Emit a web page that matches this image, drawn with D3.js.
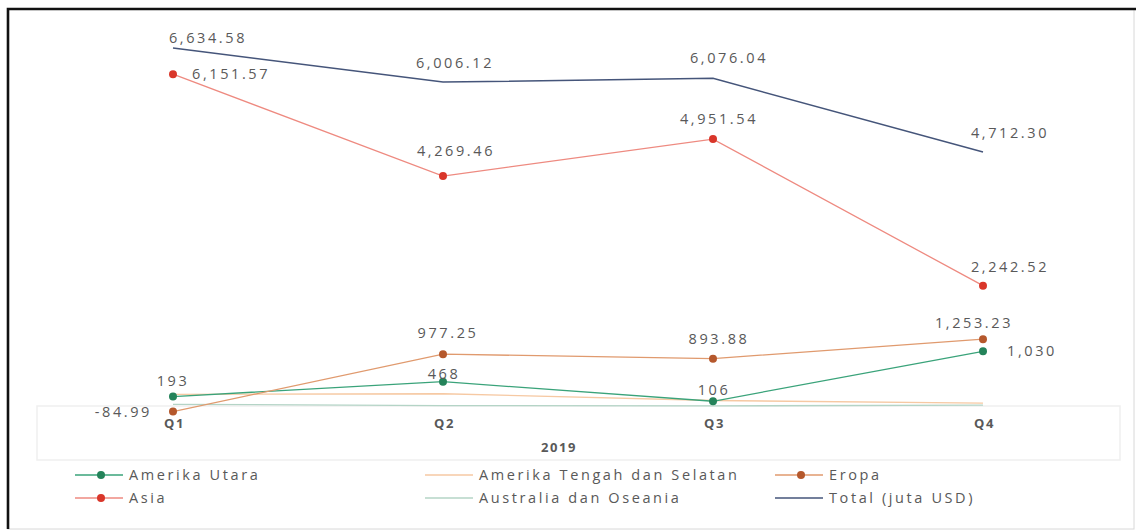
<!DOCTYPE html>
<html>
<head>
<meta charset="utf-8">
<script src="https://cdn.jsdelivr.net/npm/d3@7"></script>
<style>
  html, body { margin: 0; padding: 0; background: #fff; }
  svg { display: block; }
  text { font-family: "Open Sans", "DejaVu Sans", sans-serif; fill: #595959; }
</style>
</head>
<body>
<svg id="chart" width="1137" height="532"></svg>
<script>
// Quarterly values, 2019 (juta USD)
const quarters = ["Q1", "Q2", "Q3", "Q4"];
const yearLabel = "2019";

const amerikaUtara = [193, 468, 106, 1030];
const amerikaTengahSelatan = [235, 245, 120, 70];
const eropa = [-84.99, 977.25, 893.88, 1253.23];
const asia = [6151.57, 4269.46, 4951.54, 2242.52];
const australiaOseania = [50, 25, 20, 35];
const total = [6634.58, 6006.12, 6076.04, 4712.30];

// Series styling (colour, markers, label placement per point: dx, dy, anchor)
const series = [
  { name: "Amerika Utara", values: amerikaUtara, line: "#3aa37a", marker: "#24835a", dots: true,
    labels: [[0, -16, "middle"], [1, -8, "middle"], [1, -11, "middle"], [24, 0, "start"]] },
  { name: "Amerika Tengah dan Selatan", values: amerikaTengahSelatan, line: "#f6c9a3", dots: false, labels: null },
  { name: "Eropa", values: eropa, line: "#e09a6e", marker: "#b5582c", dots: true,
    labels: [[-21, 0, "end"], [5, -21, "middle"], [6, -20, "middle"], [-9, -16, "middle"]] },
  { name: "Asia", values: asia, line: "#ee8a80", marker: "#d9362a", dots: true,
    labels: [[19, 0, "start"], [13, -25, "middle"], [6, -20, "middle"], [27, -19, "middle"]] },
  { name: "Australia dan Oseania", values: australiaOseania, line: "#b4d4c6", dots: false, labels: null },
  { name: "Total (juta USD)", values: total, line: "#45557a", dots: false, lineWidth: 1.5,
    labels: [[35, -10, "middle"], [12, -19, "middle"], [16, -20, "middle"], [27, -19, "middle"]] }
];

const labelText = (s, v) =>
  s.name === "Amerika Utara" ? d3.format(",")(v) : d3.format(",.2f")(v).replace("−", "-");

const svg = d3.select("#chart");

// outer frame
svg.append("rect").attr("x", 8).attr("y", 9).attr("width", 1126).attr("height", 520)
  .attr("fill", "#fff").attr("stroke", "#d8d8d8").attr("stroke-width", 1);
svg.append("path").attr("d", "M8,529 L8,9 L1136,9")
  .attr("fill", "none").attr("stroke", "#111").attr("stroke-width", 2.6);

// faint box behind the category axis
svg.append("rect").attr("x", 37).attr("y", 406).attr("width", 1083).attr("height", 54)
  .attr("fill", "none").attr("stroke", "#efefef").attr("stroke-width", 1.5);

const x = d3.scalePoint().domain(quarters).range([173, 983]);
const y = d3.scaleLinear().domain([0, 7000]).range([407, 28.3]);

const lineGen = d3.line()
  .x((d, i) => x(quarters[i]))
  .y(d => y(d));

// lines: background series first
const drawOrder = [4, 1, 0, 2, 3, 5];
drawOrder.forEach(k => {
  const s = series[k];
  svg.append("path")
    .attr("d", lineGen(s.values))
    .attr("fill", "none")
    .attr("stroke", s.line)
    .attr("stroke-width", s.lineWidth || 1.3);
});

// markers
drawOrder.forEach(k => {
  const s = series[k];
  if (!s.dots) return;
  svg.append("g").selectAll("circle").data(s.values).join("circle")
    .attr("cx", (d, i) => x(quarters[i]))
    .attr("cy", d => y(d))
    .attr("r", 4)
    .attr("fill", s.marker);
});

// value labels
series.forEach(s => {
  if (!s.labels) return;
  svg.append("g").selectAll("text").data(s.values).join("text")
    .attr("x", (d, i) => x(quarters[i]) + s.labels[i][0])
    .attr("y", (d, i) => y(d) + s.labels[i][1])
    .attr("dy", "0.35em")
    .attr("text-anchor", (d, i) => s.labels[i][2])
    .attr("font-size", 14.5)
    .attr("letter-spacing", 2.6)
    .text(d => labelText(s, d));
});

// category axis labels
const xAxis = d3.axisBottom(x).tickSize(0).tickPadding(0);
const gx = svg.append("g").attr("transform", "translate(1,419)").call(xAxis);
gx.select(".domain").remove();
gx.selectAll("text")
  .attr("font-size", 13)
  .attr("font-weight", "bold")
  .attr("letter-spacing", 1.6)
  .style("font-family", "\"Open Sans\", sans-serif")
  .attr("fill", "#595959");

svg.append("text")
  .attr("x", 559).attr("y", 447).attr("dy", "0.35em")
  .attr("text-anchor", "middle")
  .attr("font-size", 13).attr("font-weight", "bold").attr("letter-spacing", 1.6)
  .text(yearLabel);

// legend
const legendPos = [
  [75, 475], [425, 475], [775, 475],
  [75, 498], [425, 498], [775, 498]
];
series.forEach((s, j) => {
  const [lx, ly] = legendPos[j];
  const g = svg.append("g").attr("transform", `translate(${lx},${ly})`);
  g.append("line").attr("x1", 0).attr("x2", 48).attr("y1", 0).attr("y2", 0)
    .attr("stroke", s.line).attr("stroke-width", s.lineWidth || 1.5);
  if (s.dots) {
    g.append("circle").attr("cx", 26).attr("cy", 0).attr("r", 4).attr("fill", s.marker);
  }
  g.append("text").attr("x", 54).attr("y", 0).attr("dy", "0.35em")
    .attr("font-size", 14.5).attr("letter-spacing", 2.6)
    .text(s.name);
});
</script>
</body>
</html>
